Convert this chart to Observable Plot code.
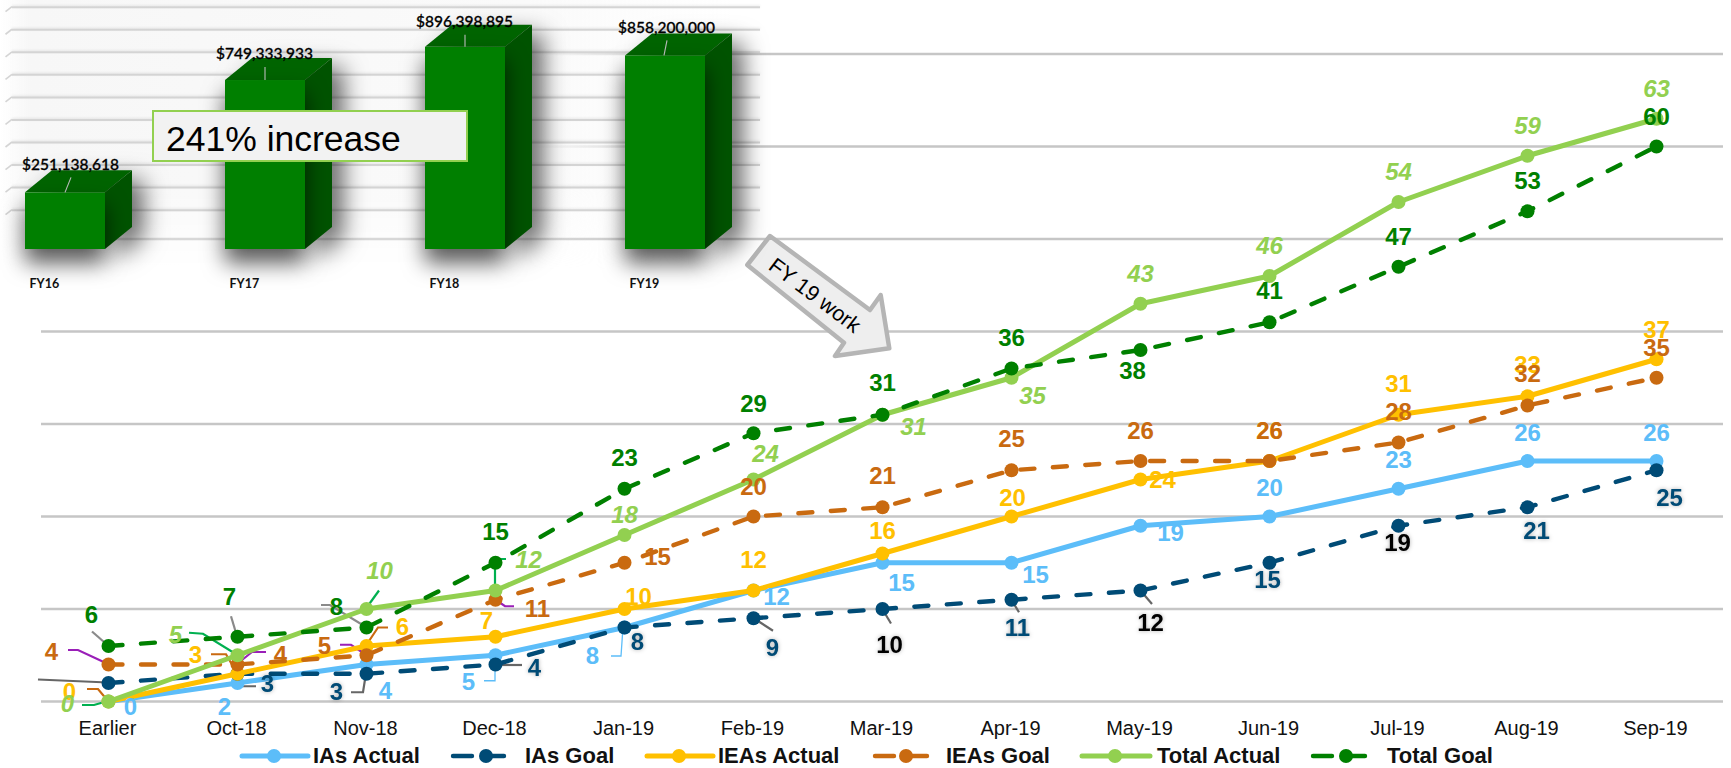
<!DOCTYPE html>
<html><head><meta charset="utf-8">
<script src="https://cdn.jsdelivr.net/npm/d3@7"></script>
<script src="https://cdn.jsdelivr.net/npm/@observablehq/plot@0.6"></script>
<style>
html,body{margin:0;padding:0;background:#fff;overflow:hidden}
#stage{position:relative;width:1731px;height:768px;font-family:"Liberation Sans",Arial,sans-serif}
#main,#inset{position:absolute;left:0;top:0}
#main svg,#inset svg{display:block;overflow:visible;background:transparent;max-width:none !important}
#insetbg{position:absolute;left:0;top:0;width:755px;height:300px;background:linear-gradient(to right,rgba(247,247,247,0),#f7f7f7 4%,#fafafa 70%,rgba(255,255,255,0) 97%);-webkit-mask-image:linear-gradient(to bottom,#000 60%,transparent 90%);mask-image:linear-gradient(to bottom,#000 60%,transparent 90%)}
#callout{position:absolute;left:152px;top:110px;height:48px;background:#f2f2f2;border:2.5px solid #92d050;font-size:35.5px;line-height:54px;color:#000;padding-left:12px;box-sizing:content-box;width:300px}
#legend{position:absolute;left:0;top:740px;width:1731px;height:28px}
#legend span{position:absolute;top:1px;font-size:22px;font-weight:bold;color:#111;line-height:30px;white-space:nowrap}
#legend svg{position:absolute;left:0;top:0}
</style></head><body>
<div id="stage"><div id="main"></div><div id="insetbg"></div><div id="inset"></div><div id="callout">241% increase</div><div id="legend"></div></div>
<script>
// ---------- data ----------
const months = ["Earlier","Oct-18","Nov-18","Dec-18","Jan-19","Feb-19","Mar-19","Apr-19","May-19","Jun-19","Jul-19","Aug-19","Sep-19"];
const iasActual   = [0,2,4,5,8,12,15,15,19,20,23,26,26];
const iasGoal     = [2,3,3,4,8,9,10,11,12,15,19,21,25];
const ieasActual  = [0,3,6,7,10,12,16,20,24,26,31,33,37];
const ieasGoal    = [4,4,5,11,15,20,21,25,26,26,28,32,35];
const totalActual = [0,5,10,12,18,24,31,35,43,46,54,59,63];
const totalGoal   = [6,7,8,15,23,29,31,36,38,41,47,53,60];
const gridValues  = [0,10,20,30,40,50,60,70];

const fiscalYears = ["FY16","FY17","FY18","FY19"];
const funding     = [251138618,749333933,896398895,858200000];
const fundingGrid = [100,200,300,400,500,600,700,800,900,1000].map(d=>d*1e6);

// ---------- styling tables ----------
const series = [
 {name:"IAs Actual",  values:iasActual,  color:"#5cbdf9", dashed:false},
 {name:"IAs Goal",    values:iasGoal,    color:"#004b76", dashed:true},
 {name:"IEAs Actual", values:ieasActual, color:"#ffc000", dashed:false},
 {name:"IEAs Goal",   values:ieasGoal,   color:"#c96a10", dashed:true},
 {name:"Total Actual",values:totalActual,color:"#92d050", dashed:false},
 {name:"Total Goal",  values:totalGoal,  color:"#008000", dashed:true}
];
// label offsets from each point, px (null = no label shown)
const labelOffsets = {
 "Total Actual":[[-41,3],[-62,-20],[13,-38],[33,-30],[0,-20],[12,-25],[31,13],[21,19],[0,-29],[0,-30],[0,-30],[0,-29],[0,-29]],
 "Total Goal":[[-17,-31],[-8,-39],[-30,-20],[0,-30],[0,-30],[0,-29],[0,-31],[0,-30],[-8,21],[0,-31],[0,-29],[0,-30],[0,-29]],
 "IEAs Actual":[[-39,-9],[-42,-18],[36,-19],[-9,-15],[14,-12],[0,-30],[0,-22],[1,-18],[22,1],[0,-30],[0,-30],[0,-31],[0,-29]],
 "IEAs Goal":[[-57,-12],[43,-9],[-42,-9],[42,10],[33,-5],[0,-29],[0,-31],[0,-31],[0,-30],[0,-30],[0,-30],[0,-31],[0,-29]],
 "IAs Actual":[[22,6],[-13,24],[19,27],[-27,27],[-32,29],[23,7],[19,21],[24,13],[30,8],[0,-28],[0,-28],[0,-28],[0,-28]],
 "IAs Goal":[null,[30,11],[-30,19],[39,4],[13,15],[19,30],[7,36],[6,29],[10,33],[-2,18],[-1,18],[9,24],[13,28]]
};
const blackLabels = new Set(["IAs Goal|6","IAs Goal|8","IAs Goal|10"]);
const leaderGray="#8a8a8a", leaderDark="#666", leaderPurple="#9a1fb8", leaderGreen="#00b050", leaderBlue="#5cbdf9", leaderOrange="#c96a10";
const leaders = [
 ["Total Goal",0,leaderGray,[[-16,-14],[0,0]]],
 ["IEAs Goal",0,leaderPurple,[[-40,-14],[-30,-14],[0,0]]],
 ["IAs Goal",0,leaderDark,[[-70,-3],[0,0]]],
 ["IEAs Actual",0,leaderOrange,[[-21,-12],[-10,-12],[0,0]]],
 ["Total Actual",0,leaderGreen,[[-26,4],[-14,4],[0,0]]],
 ["Total Actual",1,leaderGreen,[[-48,-22],[-34,-21],[0,0]]],
 ["Total Goal",1,leaderGray,[[-6,-20],[0,0]]],
 ["IEAs Actual",1,leaderOrange,[[-26,-19],[-11,-19],[0,0]]],
 ["IEAs Goal",1,leaderPurple,[[29,-12],[15,-12],[0,0]]],
 ["IAs Goal",1,leaderDark,[[19,13],[6,13],[0,0]]],
 ["Total Actual",2,leaderGreen,[[13,-18],[0,0]]],
 ["Total Goal",2,leaderGray,[[-45,-22],[-36,-22],[0,0]]],
 ["IEAs Actual",2,leaderOrange,[[22,-18],[12,-18],[0,0]]],
 ["IEAs Goal",2,leaderPurple,[[-26,-10],[-15,-10],[0,0]]],
 ["IAs Goal",2,leaderDark,[[-15,19],[-3,19],[0,0]]],
 ["Total Actual",3,leaderGreen,[[11,-31],[0,-31],[0,0]]],
 ["IEAs Goal",3,leaderPurple,[[19,7],[10,7],[0,0]]],
 ["IAs Goal",3,leaderDark,[[27,1],[0,1]]],
 ["IAs Actual",3,leaderBlue,[[0,0],[0,26],[-11,26]]],
 ["IAs Actual",4,leaderBlue,[[-1,0],[-3,29],[-13,29]]],
 ["IAs Goal",5,leaderDark,[[0,0],[20,13]]],
 ["IAs Goal",6,leaderDark,[[0,0],[9,15]]],
 ["IAs Goal",7,leaderDark,[[0,0],[8,13]]],
 ["IAs Goal",8,leaderDark,[[0,0],[12,14]]]
];
const legendItems = [
 {name:"IAs Actual",  x1:242, xm:274, x2:308, tx:313},
 {name:"IAs Goal",    x1:453, xm:486, x2:504, tx:525},
 {name:"IEAs Actual", x1:647, xm:679, x2:713, tx:718},
 {name:"IEAs Goal",   x1:875, xm:906, x2:927, tx:946},
 {name:"Total Actual",x1:1082,xm:1115,x2:1150,tx:1157},
 {name:"Total Goal",  x1:1313,xm:1346,x2:1365,tx:1387}
];

// ---------- main chart ----------
const tidy = series.map(s => ({...s, rows:s.values.map((v,i)=>({month:months[i],value:v}))}));
const byName = Object.fromEntries(series.map(s=>[s.name,s]));

const labelMarks = tidy.flatMap(s => s.rows.flatMap((r,i)=>{
  const off = labelOffsets[s.name][i];
  if(!off) return [];
  const black = blackLabels.has(s.name+"|"+i);
  return [Plot.text([r],{x:"month",y:"value",text:d=>String(d.value),dx:off[0],dy:off[1],
    fill:black?"#000":s.color,fontSize:24,fontWeight:"bold",
    fontStyle:s.name==="Total Actual"?"italic":"normal",
    imageFilter:(s.name==="IAs Goal")?"drop-shadow(0 0 2px rgba(0,0,0,.3))":"none"})];
}));

function leaderMark(index,scales){
  const g=d3.create("svg:g").attr("fill","none");
  for(const [name,i,color,pts] of leaders){
    const px=scales.x(months[i]), py=scales.y(byName[name].values[i]);
    g.append("path").attr("d",d3.line()(pts.map(([a,b])=>[px+a,py+b])))
      .attr("stroke",color).attr("stroke-width",color===leaderBlue?1.3:2.2);
  }
  return g.node();
}
function arrowMark(){
  const g=d3.create("svg:g");
  g.append("path").attr("d","M770,236L747.3,265L844,342.7L835,356L889.3,348.3L880.7,295L870,310Z")
   .attr("fill","#eeeeee").attr("stroke","#b5b5b5").attr("stroke-width",4.5).attr("stroke-linejoin","round");
  g.append("text").attr("transform","translate(815,295) rotate(37)").attr("text-anchor","middle").attr("dy","0.35em")
   .attr("font-size",21.5).attr("fill","#000").text("FY 19 work");
  return g.node();
}

const mainPlot = Plot.plot({
  width:1731,height:740,marginLeft:41,marginRight:8,marginTop:0,marginBottom:39,
  style:{fontFamily:'"Liberation Sans",Arial,sans-serif',background:"transparent"},
  x:{type:"point",domain:months,range:[107,1657],padding:0,axis:null},
  y:{domain:[0,70],range:[701,53.5],axis:null},
  marks:[
    Plot.ruleY(gridValues,{stroke:"#c6c6c6",strokeWidth:2.6}),
    Plot.axisX(months,{anchor:"bottom",label:null,tickSize:0,tickPadding:19,fontSize:20,fill:"#111",dx:-1}),
    arrowMark,
    leaderMark,
    ...tidy.flatMap(s=>[
      Plot.line(s.rows,{x:"month",y:"value",stroke:s.color,strokeWidth:s.dashed?4.4:5,
        strokeDasharray:s.dashed?"14 18.5":null,strokeLinecap:s.dashed?"round":"butt",strokeLinejoin:"round"}),
      Plot.dot(s.rows,{x:"month",y:"value",r:7,fill:s.color,stroke:null})
    ]),
    ...labelMarks
  ]
});
document.getElementById("main").append(mainPlot);

// ---------- inset 3D column chart ----------
const fundingRows = fiscalYears.map((fy,i)=>({fy,value:funding[i]}));
const fundingFmt = d3.format("$,");
const fundingLabelOffset = [[5,-28],[-1,-26],[-1,-25],[1,-28]];
const fundingLeaders = [[[0,0],[6,-15]],[[0,0],[0,-13]],[[0,0],[0,-12]],[[-1,0],[2,-15]]];
const depthX=27, depthY=22, backShift=-16.8;
const bandwidthOf = s => typeof s.bandwidth==="function" ? s.bandwidth() : s.bandwidth;

function gridTicks(index,scales){
  const g=d3.create("svg:g").attr("fill","none").attr("stroke","#d4d4d4").attr("stroke-width",1.6);
  for(const v of fundingGrid){const y=scales.y(v)+backShift;
    g.append("path").attr("d",`M12,${y}L5.5,${y+5}`);}
  return g.node();
}
function faces(index,scales){
  const g=d3.create("svg:g").style("filter","drop-shadow(10px 10px 12px rgba(0,0,0,.65))");
  const bw=bandwidthOf(scales.x), y0=scales.y(0);
  for(const r of fundingRows){
    const x=scales.x(r.fy), y=scales.y(r.value);
    g.append("path").attr("fill","#006400").attr("d",`M${x},${y}L${x+depthX},${y-depthY}L${x+bw+depthX},${y-depthY}L${x+bw},${y}Z`);
    g.append("path").attr("fill","#005300").attr("d",`M${x+bw},${y}L${x+bw+depthX},${y-depthY}L${x+bw+depthX},${y0-depthY}L${x+bw},${y0}Z`);
  }
  return g.node();
}
function fundLeaders(index,scales){
  const g=d3.create("svg:g").attr("fill","none").attr("stroke","#bcbcbc").attr("stroke-width",1.1);
  const bw=bandwidthOf(scales.x);
  fundingRows.forEach((r,i)=>{
    const x=scales.x(r.fy)+bw/2, y=scales.y(r.value);
    g.append("path").attr("d",d3.line()(fundingLeaders[i].map(([a,b])=>[x+a,y+b])));
  });
  return g.node();
}
const insetPlot = Plot.plot({
  width:770,height:300,marginLeft:12,marginRight:10,marginTop:0,marginBottom:51,
  style:{fontFamily:"Lato,sans-serif",background:"transparent",overflow:"visible"},
  x:{type:"band",domain:fiscalYears,range:[23.5,706.6],paddingInner:0.6,paddingOuter:0,axis:null},
  y:{domain:[0,1000e6],range:[249,23.5],axis:null},
  marks:[
    Plot.ruleY(fundingGrid,{dy:backShift,stroke:"#d4d4d4",strokeWidth:2,imageFilter:"drop-shadow(0 -1px 1px rgba(0,0,0,.08))"}),
    gridTicks,
    faces,
    Plot.barY(fundingRows,{x:"fy",y:"value",fill:"#007f00",imageFilter:"drop-shadow(0 14px 11px rgba(0,0,0,.65))"}),
    fundLeaders,
    ...fundingRows.map((r,i)=>Plot.text([r],{x:"fy",y:"value",text:d=>fundingFmt(d.value),dx:fundingLabelOffset[i][0],dy:fundingLabelOffset[i][1],fontSize:15.5,fontWeight:500,fill:"#000",stroke:"#000",strokeWidth:0.3})),
    Plot.axisX(fiscalYears,{anchor:"bottom",label:null,tickSize:0,tickPadding:30,textAnchor:"start",dx:-36,fontSize:12.5,fontWeight:"bold",fill:"#111"})
  ]
});
document.getElementById("inset").append(insetPlot);

// ---------- legend ----------
const legend=document.getElementById("legend");
const ns="http://www.w3.org/2000/svg";
const lsvg=document.createElementNS(ns,"svg");
lsvg.setAttribute("width",1731);lsvg.setAttribute("height",28);
legendItems.forEach(it=>{
  const s=byName[it.name];
  const l=document.createElementNS(ns,"line");
  l.setAttribute("x1",it.x1);l.setAttribute("x2",it.x2);l.setAttribute("y1",16);l.setAttribute("y2",16);
  l.setAttribute("stroke",s.color);l.setAttribute("stroke-width",s.dashed?4.4:5);
  l.setAttribute("stroke-linecap","round");
  if(s.dashed)l.setAttribute("stroke-dasharray",`19 ${it.xm-it.x1-19} ${it.x2-it.xm}`);
  const c=document.createElementNS(ns,"circle");
  c.setAttribute("cx",it.xm);c.setAttribute("cy",16);c.setAttribute("r",7);c.setAttribute("fill",s.color);
  lsvg.append(l,c);
  const t=document.createElement("span");t.textContent=it.name;t.style.left=it.tx+"px";legend.append(t);
});
legend.append(lsvg);
</script>
</body></html>
